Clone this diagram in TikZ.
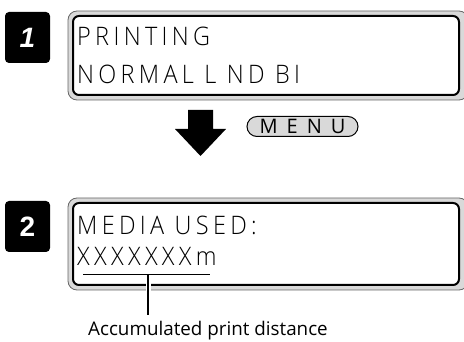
\documentclass[tikz,border=0pt]{standalone}
\usepackage{fontspec}
\setmainfont{Open Sans}
\newfontfamily\lcdfont[LetterSpace=17,FakeStretch=0.92]{Open Sans Light}
\newfontfamily\stepfont{Liberation Sans}
\usetikzlibrary{positioning}
\tikzset{
  stepbox/.style={fill=black, rounded corners=4pt, minimum width=45pt, minimum height=51pt,
    text=white, font=\stepfont\bfseries\fontsize{28}{28}\selectfont},
  panelout/.style={draw=black!60, fill=black!15, line width=0.8pt, rounded corners=9pt, minimum width=400pt},
  panelin/.style={draw=black, fill=white, line width=2pt, rounded corners=6pt, minimum width=386pt},
  lcd/.style={anchor=base west, inner sep=0pt, font=\lcdfont\fontsize{25.5}{26}\selectfont},
  menubtn/.style={draw, fill=black!15, line width=1pt, rounded corners=10pt, minimum width=111pt,
    minimum height=20pt, inner sep=0pt, font=\fontsize{20}{20}\selectfont}
}
\begin{document}
\begin{tikzpicture}[x=1pt, y=-1pt]
  \useasboundingbox (0,0) rectangle (464,342);
  % step 1
  \node[stepbox] (s1) at (27.5,37.5) {\itshape 1};
  \node[panelout, minimum height=89pt] (p1out) at (268,55.5) {};
  \node[panelin, minimum height=79pt] (p1in) at (266,55.5) {};
  \node[lcd] (t1) at (77,46) {PRINTING};
  \node[lcd] (t2) at (77,84) {NORMAL L ND BI};
  % arrow + key
  \fill (188,110) -- (213,110) -- (213,129) -- (226,129) -- (200.5,156) -- (175,129) -- (188,129) -- cycle;
  \node[menubtn] (menu) at (302.5,126.5) {M\hspace{9pt}E\hspace{9pt}N\hspace{9pt}U};
  % step 2
  \node[stepbox] (s2) at (27.5,226.5) {2};
  \node[panelout, minimum height=92pt] (p2out) at (268,244) {};
  \node[panelin, minimum height=82pt] (p2in) at (266,244) {};
  \node[lcd] (t3) at (77,235) {MEDIA USED:};
  \node[lcd] (t4) at (77,266) {XXXXXXXm};
  \coordinate (u1) at (83,275);
  \coordinate (u2) at (210,275);
  \coordinate (lead) at (148,275);
  \draw[line width=1pt] (u1) -- (u2);
  \node[anchor=base west, inner sep=0pt, font=\fontsize{18.8}{19}\selectfont] (acc) at (88,335) {Accumulated print distance};
  \draw[white, line width=5pt] (lead) -- ([yshift=6pt]lead |- acc.north);
  \draw[line width=1.2pt] (lead) -- ([yshift=6pt]lead |- acc.north);
\end{tikzpicture}
\end{document}
